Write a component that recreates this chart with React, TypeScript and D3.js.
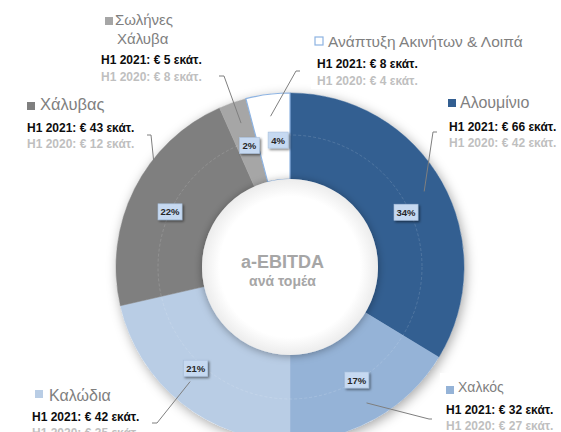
import React from "react";
import * as d3 from "d3";

const categories = ["Αλουμίνιο", "Χαλκός", "Καλώδια", "Χάλυβας", "Σωλήνες Χάλυβα", "Ανάπτυξη Ακινήτων & Λοιπά"];
const nameLines = [["Αλουμίνιο"], ["Χαλκός"], ["Καλώδια"], ["Χάλυβας"], ["Σωλήνες", "Χάλυβα"], ["Ανάπτυξη Ακινήτων & Λοιπά"]];
const values2021 = [66, 32, 42, 43, 5, 8];
const values2020 = [42, 27, 35, 12, 8, 4];
const percentLabels = ["34%", "17%", "21%", "22%", "2%", "4%"];
const centerTitle = "a-EBITDA";
const centerSubtitle = "ανά τομέα";

const colors = ["#335f91", "#95b3d7", "#b9cde5", "#7f7f7f", "#a6a6a6", "#ffffff"];

const W = 561, H = 432;
const cx = 290, cy = 267;
const R_OUT = 174, R_IN = 88;

// layout of annotation blocks
const layout = [
  { sq: [448, 99], name: [460, 108], nameSize: 16, valX: 449, y21: 131, y20: 147, bg: [443, 92, 118, 60], tick: [[437, 132], [433, 132]], dA: 0, r: 154 },
  { sq: [446, 386], name: [458, 392], nameSize: 14, valX: 446, y21: 414, y20: 430, bg: [440, 373, 121, 59], tick: [[432, 419], [429, 419]], dA: 0, r: 156 },
  { sq: [35, 390], name: [49, 401], nameSize: 16, valX: 32, y21: 421, y20: 437, bg: [28, 383, 118, 49], tick: [[152, 423], [157, 423]], dA: 2.5, r: 152 },
  { sq: [27, 102], name: [40, 110], nameSize: 16.5, valX: 27, y21: 132, y20: 148, bg: [22, 94, 120, 58], tick: [[147, 135], [151, 135]], dA: 11, r: 172 },
  { sq: [105, 17], name: [115, 25], nameSize: 15, valX: 101, y21: 64, y20: 81, bg: [97, 8, 114, 78], tick: [[219, 76], [224, 76]], dA: 0.5, r: 152 },
  { sq: [315, 37], name: [328, 47], nameSize: 15.5, valX: 317, y21: 68, y20: 85, bg: [311, 31, 216, 58], tick: [[300, 71], [296, 71]], dA: 0, r: 152 },
];
const pctNudge = [[1, 10], [2, -2], [-12, -2], [-2, 4], [3, 3], [5, 4]];

const FONT = "'Liberation Sans', Arial, sans-serif";

function polar(a: number, r: number): [number, number] {
  return [cx + r * Math.sin(a), cy - r * Math.cos(a)];
}

export default function App() {
  const pie = d3.pie<number>().sort(null).value((d) => d).startAngle(0).endAngle(2 * Math.PI);
  const arcs = pie(values2021);
  const arc = d3.arc<d3.PieArcDatum<number>>().innerRadius(R_IN).outerRadius(R_OUT);
  const rad = Math.PI / 180;

  return (
    <>
      <style>{`body{margin:0;}`}</style>
      <svg width={W} height={H} style={{ display: "block", fontFamily: FONT }}>
        <defs>
          <filter id="ringShadow" x="-20%" y="-20%" width="140%" height="140%">
            <feDropShadow dx="2" dy="3" stdDeviation="6" floodColor="#000" floodOpacity="0.35" />
          </filter>
          <filter id="innerShadow" x="-30%" y="-30%" width="160%" height="160%">
            <feDropShadow dx="0" dy="1" stdDeviation="4" floodColor="#000" floodOpacity="0.35" />
          </filter>
          <filter id="boxShadow" x="-40%" y="-40%" width="180%" height="180%">
            <feDropShadow dx="1.5" dy="1.5" stdDeviation="1.2" floodColor="#000" floodOpacity="0.5" />
          </filter>
          <radialGradient id="innerGrad" cx="50%" cy="50%" r="50%">
            <stop offset="0%" stopColor="#ffffff" />
            <stop offset="80%" stopColor="#ffffff" />
            <stop offset="100%" stopColor="#ececec" />
          </radialGradient>
        </defs>
        <rect x={0} y={0} width={W} height={H} fill="#ffffff" />

        {/* ring shadow */}
        <circle cx={cx} cy={cy} r={R_OUT} fill="#ffffff" filter="url(#ringShadow)" />

        {/* slices */}
        <g transform={`translate(${cx},${cy})`}>
          {arcs.map((a, i) => (
            <path
              key={i}
              d={arc(a) || ""}
              fill={colors[i]}
              stroke={i === 5 ? "#8db3e2" : colors[i]}
              strokeWidth={i === 5 ? 1.2 : 0.5}
            />
          ))}
          <circle r={132} fill="none" stroke="#ffffff" strokeOpacity={0.2} strokeWidth={0.7} strokeDasharray="3,2" />
        </g>

        {/* inner disc */}
        <circle cx={cx} cy={cy} r={R_IN} fill="url(#innerGrad)" filter="url(#innerShadow)" />

        <text x={282.5} y={268} textAnchor="middle" fontSize={18} fontWeight="bold" fill="#a6a6a6">{centerTitle}</text>
        <text x={282.5} y={286} textAnchor="middle" fontSize={14} fontWeight="bold" fill="#a6a6a6">{centerSubtitle}</text>

        {/* annotation blocks */}
        {layout.map((L, i) => {
          const a = arcs[i];
          const mid = (a.startAngle + a.endAngle) / 2 + L.dA * rad;
          const [px, py] = polar(mid, L.r);
          return (
            <g key={i}>
              <rect x={L.bg[0]} y={L.bg[1]} width={L.bg[2]} height={L.bg[3]} fill="#ffffff" />
              <polyline
                points={`${L.tick[0][0]},${L.tick[0][1]} ${L.tick[1][0]},${L.tick[1][1]} ${px},${py}`}
                fill="none"
                stroke="#7f7f7f"
                strokeWidth={1}
              />
              <rect
                x={L.sq[0]}
                y={L.sq[1]}
                width={8}
                height={8}
                fill={colors[i]}
                stroke={i === 5 ? "#8db3e2" : "none"}
                strokeWidth={1.2}
              />
              {nameLines[i].map((ln, k) => (
                <text key={k} x={L.name[0] + k * 2} y={L.name[1] + k * 19} fontSize={L.nameSize} fill="#7f7f7f">
                  {ln}
                </text>
              ))}
              <text x={L.valX} y={L.y21} fontSize={12} fontWeight="bold" fill="#0d0d0d">
                {`H1 2021: € ${values2021[i]} εκάτ.`}
              </text>
              <text x={L.valX} y={L.y20} fontSize={12} fontWeight="bold" fill="#bfbfbf">
                {`H1 2020: € ${values2020[i]} εκάτ.`}
              </text>
            </g>
          );
        })}

        {/* percentage boxes */}
        {arcs.map((a, i) => {
          const mid = (a.startAngle + a.endAngle) / 2;
          const [px, py] = polar(mid, 132);
          const x = px + pctNudge[i][0];
          const y = py + pctNudge[i][1];
          const w = percentLabels[i].length > 2 ? 24 : 20;
          return (
            <g key={i}>
              <rect x={x - w / 2} y={y - 8} width={w} height={16} fill="#c6d9f1" stroke="#a9c0dd" strokeWidth={0.6} filter="url(#boxShadow)" />
              <text x={x} y={y + 3.5} textAnchor="middle" fontSize={9.5} fontWeight="bold" fill="#262626">
                {percentLabels[i]}
              </text>
            </g>
          );
        })}
      </svg>
    </>
  );
}
